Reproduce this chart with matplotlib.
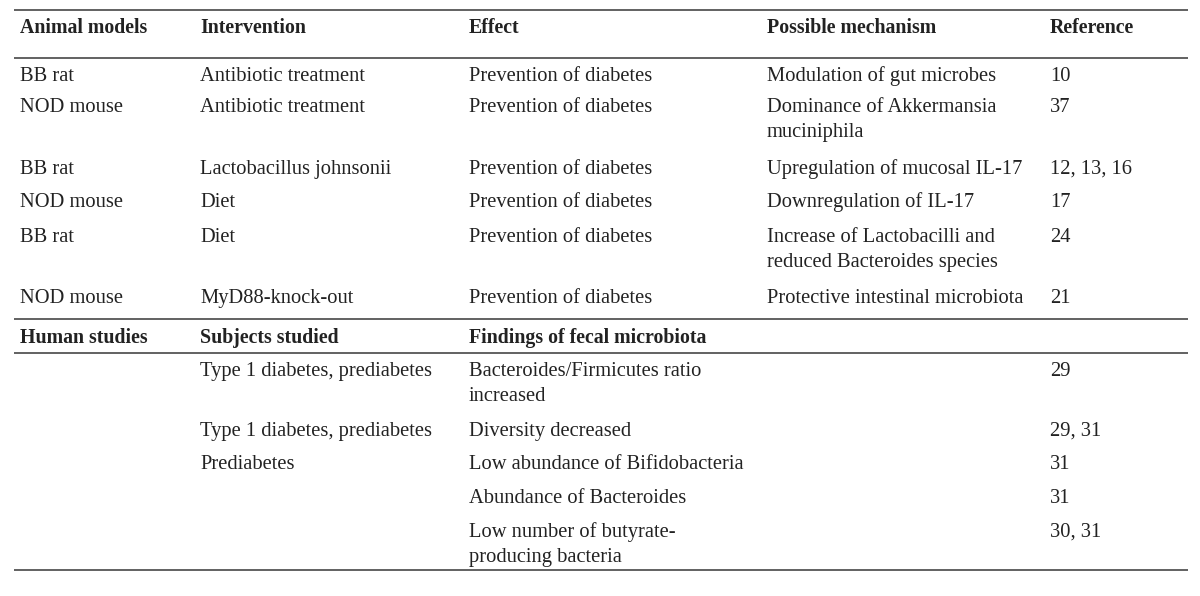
import matplotlib.pyplot as plt

# Table content
animal_header = ["Animal models", "Intervention", "Effect", "Possible mechanism", "Reference"]
animal_models = ["BB rat", "NOD mouse", "BB rat", "NOD mouse", "BB rat", "NOD mouse"]
interventions = ["Antibiotic treatment", "Antibiotic treatment", "Lactobacillus johnsonii",
                 "Diet", "Diet", "MyD88-knock-out"]
effects = ["Prevention of diabetes"] * 6
mechanisms = ["Modulation of gut microbes", "Dominance of Akkermansia\nmuciniphila",
              "Upregulation of mucosal IL-17", "Downregulation of IL-17",
              "Increase of Lactobacilli and\nreduced Bacteroides species",
              "Protective intestinal microbiota"]
animal_refs = ["10", "37", "12, 13, 16", "17", "24", "21"]

human_header = ["Human studies", "Subjects studied", "Findings of fecal microbiota", "", ""]
subjects = ["Type 1 diabetes, prediabetes", "Type 1 diabetes, prediabetes", "Prediabetes", "", ""]
findings = ["Bacteroides/Firmicutes ratio\nincreased", "Diversity decreased",
            "Low abundance of Bifidobacteria", "Abundance of Bacteroides",
            "Low number of butyrate-\nproducing bacteria"]
human_refs = ["29", "29, 31", "31", "31", "30, 31"]

# layout (pixel coordinates, text baselines)
col_x = [20, 200, 469, 767, 1050]
animal_y = [81, 112, 174, 207, 242, 303]
human_y = [376, 436, 469, 503, 537]
rule_y = [10, 58, 319, 353, 570]
line_gap = 25

fig = plt.figure(figsize=(12, 5.96), dpi=100)
ax = fig.add_axes([0, 0, 1, 1])
ax.set_xlim(0, 1200)
ax.set_ylim(596, 0)
ax.axis("off")

font = dict(family="Liberation Serif", color="#222222", va="baseline", ha="left")

ax.hlines(rule_y, 14, 1188, color="#555555", linewidth=1.3)

for x, h in zip(col_x, animal_header):
    ax.text(x, 33, h, fontweight="bold", fontsize=14.3, **font)
for x, h in zip(col_x, human_header):
    ax.text(x, 343, h, fontweight="bold", fontsize=14.3, **font)


def put(x, y, s):
    for k, line in enumerate(s.split("\n")):
        ax.text(x, y + k * line_gap, line, fontsize=14.8, **font)


for i, y in enumerate(animal_y):
    for x, col in zip(col_x, [animal_models, interventions, effects, mechanisms, animal_refs]):
        put(x, y, col[i])

for i, y in enumerate(human_y):
    for x, col in zip([col_x[1], col_x[2], col_x[4]], [subjects, findings, human_refs]):
        put(x, y, col[i])

plt.savefig("out.png", dpi=100)
